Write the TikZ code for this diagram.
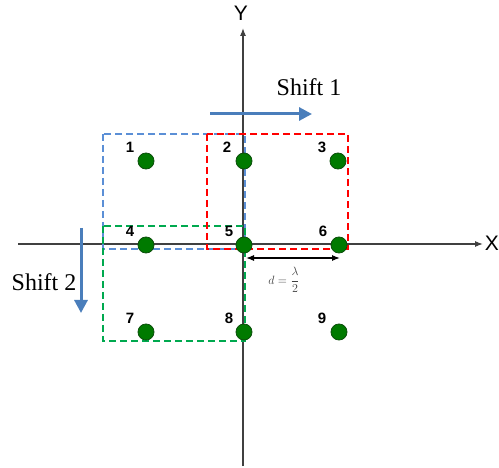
\documentclass[tikz,border=0pt]{standalone}
\usepackage{fontspec}
\setmainfont{Liberation Serif}
\newfontfamily\arialf{Liberation Sans}
\usetikzlibrary{arrows.meta}
\definecolor{dotgreen}{HTML}{007A00}
\definecolor{dotedge}{HTML}{0B4F0B}
\definecolor{shiftblue}{HTML}{4A7EBB}
\definecolor{boxblue}{HTML}{5B8FD6}
\definecolor{boxred}{HTML}{FF0000}
\definecolor{boxgreen}{HTML}{00A94F}
\tikzset{
  pt/.style={circle,fill=dotgreen,draw=dotedge,line width=0.8pt,minimum size=16pt,inner sep=0pt},
  num/.style={font=\arialf\bfseries\fontsize{15}{17}\selectfont,inner sep=0pt},
  axis/.style={line width=1.1pt,draw=black!75,-{Latex[length=8pt,width=6pt]}},
  box/.style={line width=1.8pt,dash pattern=on 7pt off 4pt},
  shiftarr/.style={line width=3pt,draw=shiftblue,-{Triangle[length=13pt,width=13pt]}},
  lbl/.style={font=\fontsize{24}{28}\selectfont,inner sep=0pt},
}
\begin{document}
\begin{tikzpicture}[x=1pt,y=-1pt]
\useasboundingbox (0,0) rectangle (499,468);
% axes
\coordinate (xl) at (18,244);
\coordinate (xr) at (483,244);
\coordinate (yb) at (243,466);
\coordinate (yt) at (243,28);
\draw[axis] (xl) -- (xr);
\draw[axis] (yb) -- (yt);
\node[font=\arialf\fontsize{21}{24}\selectfont,inner sep=0pt] (xlab) at (492,243) {X};
\node[font=\arialf\fontsize{21}{24}\selectfont,inner sep=0pt] (ylab) at (241,13) {Y};
% dashed boxes
\draw[box,draw=boxblue] (103,134) rectangle (245,249);
\draw[box,draw=boxgreen] (103,226) rectangle (245,341);
\draw[box,draw=boxred] (207,134) rectangle (348,249);
% dots
\node[pt] (d1) at (146,161) {};
\node[pt] (d2) at (244,161) {};
\node[pt] (d3) at (338,161) {};
\node[pt] (d4) at (146,245) {};
\node[pt] (d5) at (244,245) {};
\node[pt] (d6) at (339,245) {};
\node[pt] (d7) at (146,332) {};
\node[pt] (d8) at (244,332) {};
\node[pt] (d9) at (339,332) {};
% numbers
\node[num] (n1) at (130,147) {1};
\node[num] (n2) at (227,147) {2};
\node[num] (n3) at (322,147) {3};
\node[num] (n4) at (130,231) {4};
\node[num] (n5) at (229,231) {5};
\node[num] (n6) at (323,231) {6};
\node[num] (n7) at (130,318) {7};
\node[num] (n8) at (229,318) {8};
\node[num] (n9) at (322,318) {9};
% shifts
\coordinate (s1a) at (210,114);
\coordinate (s1b) at (312,114);
\draw[shiftarr] (s1a) -- (s1b);
\node[lbl] (s1) at (309,87) {Shift 1};
\coordinate (s2a) at (81,228);
\coordinate (s2b) at (81,313);
\draw[shiftarr] (s2a) -- (s2b);
\node[lbl] (s2) at (44,282) {Shift 2};
% distance
\coordinate (da) at (246,258);
\coordinate (db) at (340,258);
\draw[line width=1.1pt,{Latex[length=8pt,width=6pt]}-{Latex[length=8pt,width=6pt]}] (da) -- (db);
\node[font=\fontsize{12}{14}\selectfont,text=black!75,inner sep=1pt] (dl) at (284,280) {$d=\displaystyle\frac{\lambda}{2}$};
\end{tikzpicture}
\end{document}
